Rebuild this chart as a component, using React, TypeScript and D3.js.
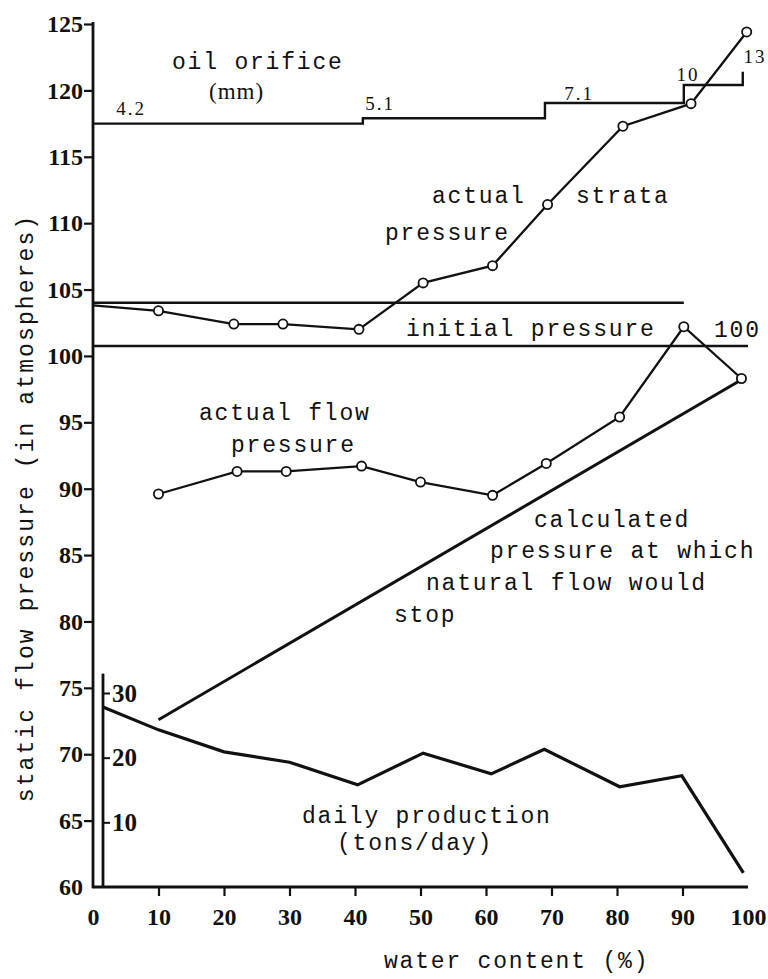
import React, { useEffect, useRef } from "react";
import * as d3 from "d3";

const W = 768;
const H = 979;

// left axis ticks (atmospheres) and bottom ticks (water %)
const pressureTicks = [60, 65, 70, 75, 80, 85, 90, 95, 100, 105, 110, 115, 120, 125];
const waterTicks = [0, 10, 20, 30, 40, 50, 60, 70, 80, 90, 100];
const tonTicks = [10, 20, 30];

// oil orifice step line
const orificeWater = [0, 41.2, 69, 90.2, 99.2];
const orificeLevel = [117.5, 117.9, 119.05, 120.4, 121.4];
const orificeLabels = ["4.2", "5.1", "7.1", "10", "13"];

// actual strata pressure
const strataWater = [0, 10, 21.5, 29, 40.6, 50.4, 61, 69.4, 80.9, 91.3, 99.8];
const strataValue = [103.8, 103.4, 102.4, 102.4, 102.0, 105.5, 106.8, 111.4, 117.3, 119.0, 124.4];

// actual flow pressure
const flowWater = [10, 22, 29.5, 41, 50, 61, 69.2, 80.4, 90.2, 99];
const flowValue = [89.6, 91.3, 91.3, 91.7, 90.5, 89.5, 91.9, 95.4, 102.2, 98.3];

// calculated pressure at which natural flow would stop
const calcWater = [10, 99];
const calcValue = [72.6, 98.2];

// daily production (tons/day), inner axis
const prodWater = [1.6, 10, 20, 30, 40.4, 50.4, 60.8, 68.9, 80.4, 89.9, 99.3];
const prodTons = [27.8, 24.3, 20.9, 19.3, 15.8, 20.7, 17.5, 21.3, 15.5, 17.2, 2.2];

// reference lines
const strataRef = { from: 0, to: 90.2, value: 104.0 };
const initialRef = { from: 0, to: 100, value: 100.75 };

const MONO = "'Liberation Mono', 'DejaVu Sans Mono', monospace";
const SERIF = "'Liberation Serif', 'DejaVu Serif', serif";

const App = () => {
  const ref = useRef<SVGSVGElement | null>(null);

  useEffect(() => {
    const svg = d3.select(ref.current);
    svg.selectAll("*").remove();

    const x = d3.scaleLinear().domain([0, 100]).range([93, 748]);
    const y = d3.scaleLinear().domain([60, 125]).range([887, 24]);
    const y2 = d3.scaleLinear().domain([0, 30]).range([887, 693]);
    const x2 = 103;

    const ink = "#111";

    // axes
    const gl = svg.append("g").attr("transform", `translate(${x(0)},0)`);
    gl.call(
      d3.axisLeft(y).tickValues(pressureTicks).tickSize(9).tickSizeOuter(0).tickPadding(1).tickFormat(d3.format("d"))
    );
    gl.select(".domain").remove();
    gl.selectAll(".tick line").attr("stroke", ink).attr("stroke-width", 2.2);
    gl.selectAll(".tick").filter((d: any) => d === 60).select("line").remove();
    gl.selectAll(".tick text")
      .attr("font-family", SERIF)
      .attr("font-weight", "bold")
      .attr("font-size", 24)
      .attr("fill", ink);

    const gb = svg.append("g").attr("transform", `translate(0,${y(60)})`);
    gb.call(d3.axisBottom(x).tickValues(waterTicks).tickSize(9).tickSizeOuter(0).tickPadding(12).tickFormat(d3.format("d")));
    gb.select(".domain").remove();
    gb.selectAll(".tick line").attr("stroke", ink).attr("stroke-width", 2.2);
    gb.selectAll(".tick").filter((d: any) => d === 0 || d === 100).select("line").remove();
    gb.selectAll(".tick text")
      .attr("font-family", SERIF)
      .attr("font-weight", "bold")
      .attr("font-size", 24)
      .attr("fill", ink);

    const gr = svg.append("g").attr("transform", `translate(${x2},0)`);
    gr.call(d3.axisRight(y2).tickValues(tonTicks).tickSize(7).tickSizeOuter(0).tickPadding(2).tickFormat(d3.format("d")));
    gr.select(".domain").remove();
    gr.selectAll(".tick line").attr("stroke", ink).attr("stroke-width", 2);
    gr.selectAll(".tick text")
      .attr("font-family", SERIF)
      .attr("font-weight", "bold")
      .attr("font-size", 25)
      .attr("fill", ink);

    // axis lines
    svg.append("line").attr("x1", x(0)).attr("x2", x(0)).attr("y1", y(60) + 1).attr("y2", y(125) - 2)
      .attr("stroke", ink).attr("stroke-width", 2.8);
    svg.append("line").attr("x1", x(0) - 1).attr("x2", x(100)).attr("y1", y(60)).attr("y2", y(60))
      .attr("stroke", ink).attr("stroke-width", 2.8);
    svg.append("line").attr("x1", x2).attr("x2", x2).attr("y1", y(60)).attr("y2", y2(33))
      .attr("stroke", ink).attr("stroke-width", 2.8);

    // reference lines
    [strataRef, initialRef].forEach((r) => {
      svg.append("line")
        .attr("x1", x(r.from)).attr("x2", x(r.to))
        .attr("y1", y(r.value)).attr("y2", y(r.value))
        .attr("stroke", ink).attr("stroke-width", 2.4);
    });

    // oil orifice steps
    const orifice = orificeWater.map((w, i) => [w, orificeLevel[i]] as [number, number]);
    svg.append("path")
      .attr("d", d3.line().x((d) => x(d[0])).y((d) => y(d[1])).curve(d3.curveStepAfter)(orifice) as string)
      .attr("fill", "none").attr("stroke", ink).attr("stroke-width", 2.4);

    const lineXY = d3.line<[number, number]>().x((d) => x(d[0])).y((d) => y(d[1]));

    const calc = calcWater.map((w, i) => [w, calcValue[i]] as [number, number]);
    svg.append("path").attr("d", lineXY(calc) as string)
      .attr("fill", "none").attr("stroke", ink).attr("stroke-width", 3);

    const prod = prodWater.map((w, i) => [w, prodTons[i]] as [number, number]);
    svg.append("path")
      .attr("d", d3.line<[number, number]>().x((d) => x(d[0])).y((d) => y2(d[1]))(prod) as string)
      .attr("fill", "none").attr("stroke", ink).attr("stroke-width", 3.2).attr("stroke-linejoin", "miter");

    const strata = strataWater.map((w, i) => [w, strataValue[i]] as [number, number]);
    const flow = flowWater.map((w, i) => [w, flowValue[i]] as [number, number]);
    [strata, flow].forEach((s) => {
      svg.append("path").attr("d", lineXY(s) as string)
        .attr("fill", "none").attr("stroke", ink).attr("stroke-width", 2.3);
    });
    svg.append("g").selectAll("circle")
      .data([...strata.slice(1), ...flow])
      .enter()
      .append("circle")
      .attr("cx", (d) => x(d[0]))
      .attr("cy", (d) => y(d[1]))
      .attr("r", 4.6)
      .attr("fill", "#fff")
      .attr("stroke", ink)
      .attr("stroke-width", 1.8);

    // orifice size labels
    const orLabelPos = [
      [131, 115],
      [380, 110],
      [579, 100],
      [688, 81],
      [755, 63],
    ];
    svg.append("g").selectAll("text")
      .data(orificeLabels)
      .enter()
      .append("text")
      .attr("x", (_d, i) => orLabelPos[i][0])
      .attr("y", (_d, i) => orLabelPos[i][1])
      .attr("text-anchor", "middle")
      .attr("font-family", SERIF)
      .attr("font-size", 19)
      .attr("letter-spacing", 2)
      .attr("fill", ink)
      .text((d) => d);

    // annotation texts
    const notes: [string, number, number][] = [
      ["oil orifice", 172, 69],
      ["actual", 432, 203],
      ["strata", 576, 203],
      ["pressure", 385, 240],
      ["initial pressure", 406, 336],
      ["100", 714, 337],
      ["actual flow", 199, 420],
      ["pressure", 231, 452],
      ["calculated", 534, 527],
      ["pressure at which", 490, 558],
      ["natural flow would", 426, 590],
      ["stop", 394, 622],
      ["daily production", 302, 823],
      ["(tons/day)", 337, 850],
      ["water content (%)", 384, 968],
    ];
    svg.append("g").selectAll("text")
      .data(notes)
      .enter()
      .append("text")
      .attr("x", (d) => d[1])
      .attr("y", (d) => d[2])
      .attr("font-family", MONO)
      .attr("font-size", 23)
      .attr("letter-spacing", 1.8)
      .attr("fill", ink)
      .text((d) => d[0]);

    svg.append("text")
      .attr("x", 209).attr("y", 99)
      .attr("font-family", SERIF).attr("font-size", 23).attr("fill", ink)
      .attr("letter-spacing", 1)
      .text("(mm)");

    svg.append("text")
      .attr("transform", `translate(33,508) rotate(-90)`)
      .attr("text-anchor", "middle")
      .attr("font-family", MONO)
      .attr("font-size", 23)
      .attr("letter-spacing", 2.1)
      .attr("fill", ink)
      .text("static flow pressure (in atmospheres)");
  }, []);

  return (
    <svg
      ref={ref}
      width={W}
      height={H}
      style={{ position: "absolute", left: 0, top: 0, background: "#fff" }}
    />
  );
};

export default App;
